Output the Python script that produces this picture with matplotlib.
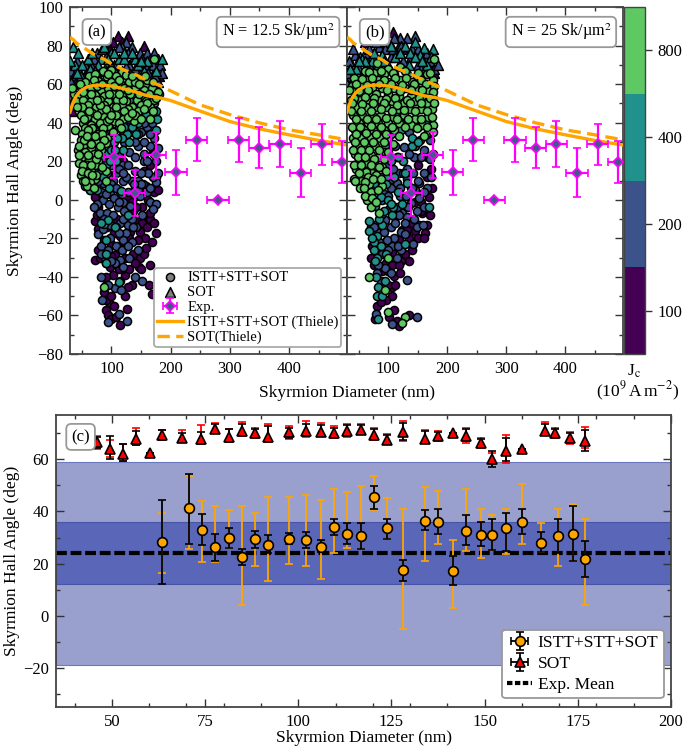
import matplotlib
matplotlib.use('Agg')
import matplotlib.pyplot as plt
import numpy as np
from matplotlib.colors import ListedColormap, BoundaryNorm
from matplotlib.cm import ScalarMappable
from matplotlib.ticker import MultipleLocator

plt.rcParams['font.family'] = ['Liberation Serif', 'DejaVu Serif']
plt.rcParams['mathtext.fontset'] = 'stix'
plt.rcParams['font.size'] = 11.5

# colours for the four current densities
purple = '#440154'
blue = '#3b528b'
teal = '#21918c'
green = '#5ec962'
jc_labels = ['100', '200', '400', '800']

# Thiele curves
thiele_d = [30, 33, 36, 40, 45, 50, 60, 70, 80, 90, 100, 120, 140, 160, 180, 200, 250, 300, 350, 400, 450, 500]
thiele_full = [45.5, 48.5, 51, 53.5, 55.5, 57, 58.7, 59.3, 59.5, 59.4, 59, 57.7, 56, 54, 53, 51.5, 46, 40.6, 36.8, 33.7, 30.8, 28.3]
thiele_sot = [84.5, 83.5, 83, 81.5, 80.5, 79.5, 77.5, 75.5, 74, 72.5, 70.5, 67.5, 65, 62, 59.5, 56.5, 49.2, 44.2, 39.9, 36.3, 33.7, 31]

# experiment
exp_d = [105, 139, 175, 209, 244, 280, 315, 350, 385, 420, 455, 490]
exp_ang = [22.4, 3.5, 23, 14.3, 31.1, 0, 31, 27, 28.8, 14, 28.8, 19.5]
exp_lo = [11.3, -8.5, 11.3, 2.6, 20, 0, 19.5, 16.5, 17, 1.4, 18.2, 8.5]
exp_hi = [33.7, 15.5, 34.9, 26, 42.4, 0, 42.4, 38, 41, 26.7, 39.5, 30.3]
exp_xerr = [18] * 12

# panel (a) simulation points, (diameter, angle)
a_tri_purple = [(111, 85), (102, 82), (118, 82), (180, 64), (40, 50), (33, 46), (98, 78), (165, 70), (128, 85), (90, 82),
                (170, 64), (48, 56), (155, 80), (35, 52)]
a_tri_blue = [(125, 82), (118, 79), (135, 79), (75, 76), (128, 76), (148, 76), (160, 76), (172, 76), (152, 73),
              (165, 73), (178, 73), (65, 70), (105, 70), (130, 70), (170, 70), (182, 70), (32, 67), (45, 67),
              (58, 67), (118, 67), (36, 64), (60, 64), (168, 64), (40, 61), (32, 61), (178, 61), (140, 68), (90, 74),
              (42, 72), (55, 70), (70, 73), (84, 78), (92, 70), (112, 79), (125, 69), (138, 74), (156, 70), (162, 66),
              (185, 66), (150, 66), (45, 62), (55, 64), (100, 70), (174, 64)]
a_tri_teal = [(35, 79), (88, 79), (100, 76), (60, 73), (82, 73), (95, 73), (112, 73), (122, 73), (140, 73), (38, 70),
              (50, 70), (78, 70), (145, 70), (72, 67), (90, 67), (155, 67), (175, 67), (48, 64), (108, 66), (132, 65),
              (30, 72), (44, 76), (68, 76), (76, 65), (105, 76), (122, 76), (135, 76), (160, 72), (185, 73), (42, 66),
              (64, 68), (150, 72)]

a_purple = [(72, 1.7), (159, 7), (151, -4), (162, -10), (176, -17), (148, -16.5), (156, -20), (168, -22), (123, -24),
            (72, -11), (77, -15), (77, -26), (72, -31), (111, -24), (148, -30), (137, -28), (147, -35), (166, -34),
            (103, -39), (123, -39), (134, -44), (163, -44), (169, -49), (123, -50), (97, -35), (90, -40), (91, -44),
            (87, -48), (97, -54), (91, -57), (94, -60), (100, -62), (126, -56.5), (114, -65), (108, -61), (165, -10),
            (145, -21), (131, -16.5), (114, -19), (100, -23), (106, -28.5), (123, -30), (125, -5), (137, -6), (162, 0),
            (165, -7), (155, 15), (170, 25), (120, 20), (140, 5), (165, 18), (130, -20), (110, -10), (93, -14),
            (85, -29), (140, -11), (152, -12), (118, -36), (128, 2), (172, 4), (78, -4), (88, -21), (104, -17),
            (80, -30), (75, -8), (90, -33), (100, -29), (112, -36), (130, -36), (140, -33), (155, -28), (160, -14),
            (172, -12), (168, -2), (150, -36), (90, -52), (105, -55), (100, -50), (115, -42), (128, -45), (82, -10),
            (142, -4), (135, -1), (178, 5), (158, -25), (175, 12)]
a_blue = [(63, 5), (83, 4), (97, 3), (86, 0), (96, -2), (120, -1), (111, -3.5), (80, -7), (92, -7), (103, -8),
          (114, -12), (128, -13), (77, -18), (86, -15), (108, -14), (125, -17), (142, -14), (97, -20), (120, -21),
          (83, -24), (108, -24), (134, -22), (145, -26), (89, -30), (114, -31), (130, -30), (106, -33), (83, -40),
          (140, -40), (151, -42), (106, -46), (116, -47), (84, -52), (112, -59), (127, -63), (95, -63.5), (176, 9),
          (165, -1), (176, -2), (120, 9.5), (134, 10), (103, 10), (86, 8.6), (154, 8), (145, 10), (150, 35),
          (165, 28), (175, 20), (130, 25), (118, 18), (140, 15), (155, 20), (170, 12), (108, 14), (125, 12),
          (172, 32), (160, 38), (145, 28), (135, 35), (128, 4), (142, 2), (112, 5), (95, 12), (78, 10), (162, 14),
          (150, 14), (178, 27), (155, 30), (122, 30), (112, 24), (168, 40), (150, 44), (140, 22), (100, 18),
          (125, 40), (138, 44), (90, 3), (105, 1), (118, 3), (132, -3), (148, 2), (160, 4), (170, -5), (135, -10),
          (120, -10), (88, -10), (98, -13), (113, -17), (136, -14), (152, -8), (82, -28), (95, -26), (118, -26),
          (128, -24), (100, -32), (120, -35), (95, -44), (145, 5), (155, 24), (165, 34), (140, 30), (128, 18),
          (112, 16), (100, 8), (92, 20), (150, 8), (165, 6), (172, 24), (178, 14), (138, 8), (118, 36), (130, 42),
          (145, 34), (155, 40), (160, 20), (120, 14), (108, 6), (102, 24), (88, 14), (76, -2), (70, -4), (122, -6),
          (112, -1)]
a_teal = [(56, 7.4), (87.5, -12.6), (94, -10.4), (106, -14), (91.5, -20.8), (91.5, -28), (90.3, -33), (112.4, -42.4),
          (115.7, 4.8), (83, -12), (128, -8), (177, 42), (175, 36), (168, 48), (180, 55), (62, 32), (70, 40), (78, 28),
          (85, 36), (92, 24), (98, 42), (104, 30), (112, 38), (118, 46), (126, 34), (132, 44), (140, 50), (150, 51),
          (160, 47), (66, 22), (74, 16), (84, 20), (95, 34), (108, 20), (60, 14), (68, 8), (80, 14), (92, 14),
          (145, 40), (158, 44), (172, 50), (120, 26), (65, 46), (82, 46), (100, 50), (114, 50), (130, 52), (75, 34),
          (88, 28), (100, 26), (58, 26), (170, 58), (70, 27), (82, 22), (90, 18), (98, 20), (106, 26), (114, 32),
          (122, 38), (130, 30), (138, 36), (146, 48), (100, 36), (108, 44), (118, 32), (78, 18), (70, 12), (62, 18),
          (64, 5), (76, 5), (86, 12), (96, 6), (110, 32), (125, 46), (135, 38), (155, 53), (165, 52), (175, 46),
          (142, 34), (150, 48), (74, 38), (90, 42)]
a_green = [(172, 73), (85, 67), (100, 67.5), (118, 66.5), (62, 64), (72, 65), (92, 63.5), (108, 64), (125, 64.5), (137, 63),
           (55, 61), (78, 61.5), (88, 60), (100, 61), (115, 60.5), (130, 61), (148, 62), (160, 60), (40, 57), (48, 58.5),
           (65, 58), (82, 57), (95, 58), (110, 57.5), (122, 58), (140, 58), (155, 57), (168, 58), (36, 55), (44, 54),
           (58, 55), (72, 54.5), (88, 54), (102, 55), (118, 54), (132, 55), (150, 54.5), (163, 55), (178, 56), (40, 51),
           (52, 52), (66, 51), (80, 52), (95, 51), (110, 52), (125, 51), (143, 52), (158, 51), (172, 52), (60, 49),
           (74, 48), (88, 49), (103, 48), (118, 49), (135, 48), (150, 49), (165, 48), (55, 46), (68, 45), (82, 45.5),
           (96, 46), (112, 45), (128, 47), (145, 46), (160, 50), (58, 43), (72, 42), (88, 43), (104, 41), (120, 42),
           (138, 41), (52, 40), (65, 39), (80, 40), (95, 38.5), (112, 40), (38, 36), (55, 37), (70, 36), (86, 37),
           (102, 35), (50, 34), (62, 33.5), (78, 34), (92, 32), (48, 31), (60, 30), (74, 30), (90, 29.5), (52, 28),
           (66, 27), (82, 26), (44, 26), (56, 25), (70, 24), (50, 22), (62, 21), (78, 20), (46, 19), (58, 18),
           (72, 18), (54, 16), (66, 15), (90, 15), (48, 13), (60, 12), (72, 11), (52, 10), (64, 9), (90, 10), (58, 7),
           (70, 6), (88, -45), (47, 60), (70, 62), (95, 65), (112, 62), (140, 61), (52, 56), (76, 59), (104, 59), (128, 57),
           (146, 55), (175, 53), (34, 58), (50, 48), (65, 55), (90, 47), (80, 49), (108, 48), (122, 46), (140, 44),
           (155, 47), (170, 46), (62, 46), (76, 44), (92, 41), (108, 44), (128, 43), (48, 44), (54, 42), (68, 37), (84, 34),
           (96, 42), (116, 37), (60, 36), (72, 33), (88, 31), (54, 31), (66, 29), (80, 28), (46, 23), (60, 23), (74, 21),
           (52, 18), (66, 18), (50, 15), (60, 14), (74, 13), (56, 10), (68, 13), (46, 28), (58, 33), (78, 24), (84, 17),
           (100, 44), (134, 45), (150, 42), (165, 42), (120, 52), (160, 62), (135, 64), (76, 52), (96, 55), (84, 60),
           (112, 55), (146, 60), (170, 61), (156, 64), (42, 48)]

# panel (b) simulation points
b_tri_purple = [(178, 66), (172, 70), (60, 82), (40, 62), (92, 80), (125, 78), (168, 66), (108, 87), (55, 60)]
b_tri_blue = [(146, 85), (131, 84), (120, 84), (109, 84), (98, 82), (117, 78.5), (85, 79), (140, 78), (75, 76), (160, 74),
              (170, 72), (44, 75), (60, 76), (35, 64), (38, 70), (50, 68), (150, 70), (65, 71), (33, 72), (178, 68),
              (48, 62), (125, 72), (105, 74), (36, 58), (40, 78), (52, 74), (68, 78), (80, 82), (95, 78), (108, 78),
              (122, 80), (138, 74), (155, 68), (150, 78), (165, 76), (30, 66), (42, 60), (55, 64), (70, 68), (118, 70),
              (185, 70), (30, 60)]
b_tri_teal = [(160, 78.5), (175, 78), (154, 75), (55, 73), (72, 72), (90, 75), (112, 74), (128, 80), (100, 70), (45, 68),
              (135, 70), (82, 70), (165, 70), (145, 82), (60, 72), (76, 76), (86, 84), (104, 80), (120, 76), (136, 76),
              (145, 74), (158, 72), (172, 74), (35, 68), (50, 72), (92, 72)]

b_purple = [(70, -30), (73, -24), (95.5, -33), (107, -34), (135, -31.5), (121, -32), (135, -20), (118, -21), (107, -27),
            (152, -13), (166, -13), (163, -17), (158, -7), (169, 1.7), (110, -39.5), (107, -45), (107, -50), (95.5, -52),
            (81, -55), (101, -61), (115, -63), (118, -65.7), (135, -60), (124, -15.6), (132, -15.6), (146, -16), (146, -1),
            (155, -1), (165, 12), (150, 18), (138, 6), (128, -3), (70, -14), (155, -6), (112, -9), (90, -37), (100, -44),
            (75, -34), (84, -24), (120, -38), (128, -28), (140, -12), (150, -20), (170, -8), (174, 6), (160, -20), (112, -44),
            (118, -34), (100, -37), (88, -53), (78, -62), (110, -57), (140, -26), (172, 16), (165, 22)]
b_blue = [(81, -12.5), (95, -10.4), (124, -7), (138, -1.8), (101, -5), (115, -3.5), (104, -14), (81, -16.5), (93, -16.5),
          (121, -16.5), (110, -20), (107, -24), (142, -23), (81, -27), (90, -28), (114, -30), (95, -35.5), (82, -34),
          (81, -38), (131, -41.5), (78.5, -59), (107, -64.5), (148, -61), (149, -14), (159, -13), (132, -8.7), (152, 0.8),
          (166, 6), (104, 6), (115, 8.6), (104, 11), (132, 11), (87, 12), (152, 8.6), (143, 22.4), (160, 26), (171, 31),
          (154, 31), (126, 27.6), (115, 22), (132, 16), (92, 3), (146, 5), (160, 14), (170, 21), (150, 38), (135, 35),
          (120, 2), (94, -22), (122, -26), (118, 14), (142, 14), (112, 28), (90, 0), (100, 2), (110, -8), (120, 6), (130, 2),
          (140, 6), (150, 10), (160, 4), (172, 12), (176, 24), (165, 34), (155, 22), (145, 28), (135, 24), (125, 14),
          (108, 16), (98, 18), (85, -22), (98, -21), (116, -24), (128, -18), (100, -30), (88, -42), (76, -14), (104, -38),
          (112, -12), (134, -4), (148, -6), (160, -4), (118, -8), (144, -10), (128, -12), (100, -26), (88, -8)]
b_teal = [(81, -19), (67, -16), (75, -22), (81, -30), (128, -23), (95, -42), (82, -45), (81, -50), (82, -62), (107, -8),
          (108, -3.5), (124, -2), (169, -3.5), (78.5, 3.4), (87, 1.7), (131, 8.6), (110, 12), (67, -11), (75, -26), (90, -13),
          (122, 36), (132, 42), (146, 46), (162, 40), (104, 20), (95, 28), (112, 44), (75, 8), (60, 12), (125, 20), (96, 12),
          (105, 34), (140, 28), (70, 5), (78, -3), (85, -10), (92, -6), (100, 0), (72, -20), (78, -32), (88, -24), (96, -28),
          (80, -40), (90, -50), (96, 8), (104, -2), (116, 4), (128, 14), (116, 22), (140, 32), (150, 30)]
b_green = [(178, 73), (81, 71), (120, 69), (100, 68), (60, 67), (75, 66), (92, 65), (110, 65), (132, 65), (148, 64), (165, 65),
           (175, 62), (48, 63), (63, 62), (82, 62), (100, 61), (120, 62), (140, 61), (158, 60), (38, 59), (55, 59), (72, 58),
           (90, 58), (110, 58), (128, 58), (148, 57), (168, 57), (44, 56), (60, 55), (80, 55), (100, 55), (118, 54), (138, 54),
           (158, 54), (176, 53), (36, 52), (52, 52), (68, 52), (88, 51.5), (106, 51), (126, 50), (146, 51), (166, 50), (46, 48),
           (62, 48), (78, 48), (96, 48), (116, 47), (136, 47), (156, 47), (174, 47), (40, 44), (56, 44), (72, 44), (88, 44),
           (106, 43), (126, 44), (146, 42), (168, 43), (50, 40), (66, 40), (82, 40), (100, 40), (118, 40), (138, 39), (158, 39),
           (175, 39), (44, 36), (58, 36), (74, 36), (92, 36), (110, 36), (170, 35), (40, 32), (54, 32), (70, 32), (86, 32),
           (100, 31), (48, 28), (62, 28), (78, 28), (92, 25), (44, 24), (56, 24), (70, 23), (84, 22), (50, 20), (64, 19),
           (78, 18), (46, 16), (58, 15), (72, 14), (90, 17), (42, 11), (53, 9.5), (63, 14.6), (68, 8), (52, 6), (64, 3.4),
           (89, 7.4), (64, 0), (71, -4), (85, -6.6), (99, -30), (67, -40), (95, -47), (99, -58), (129, -61), (124, -64),
           (68, 66.5), (88, 67), (108, 66), (128, 67), (150, 66), (170, 66), (42, 63), (56, 62.5), (72, 63), (92, 62), (112, 63),
           (130, 63), (155, 62), (46, 60), (64, 59.5), (84, 60), (104, 60), (124, 59.5), (144, 60), (164, 60), (178, 59), (34, 57),
           (50, 56.5), (66, 57), (98, 57), (120, 56.5), (138, 57), (158, 57), (176, 56), (42, 53), (60, 53.5), (76, 53), (96, 52.5),
           (112, 53), (132, 52), (152, 53), (170, 53), (38, 50), (56, 49.5), (74, 50), (92, 50), (114, 49), (136, 50), (156, 50),
           (178, 50), (36, 46), (54, 46), (70, 46), (88, 47), (106, 46), (126, 46.5), (146, 46), (166, 46), (46, 42), (64, 42),
           (80, 42), (96, 42.5), (114, 42), (134, 42), (156, 42), (174, 43), (38, 38), (52, 38), (70, 38.5), (88, 38), (106, 38),
           (128, 38), (148, 37), (166, 38), (46, 34), (62, 34.5), (80, 34), (96, 34), (118, 33), (160, 33), (176, 35), (44, 30),
           (58, 30), (74, 30), (92, 30), (108, 29), (40, 26), (54, 26), (68, 26), (84, 26), (100, 25), (48, 22), (60, 22), (76, 21),
           (92, 21), (42, 18), (54, 18), (70, 18), (84, 17), (50, 14), (66, 12), (80, 13), (96, 15), (44, 10), (60, 9), (74, 11),
           (88, 11), (58, 6), (70, 4), (82, 5), (60, 2), (72, 1), (80, -1)]

# panel (c)
c_d = [63.5, 70.6, 74.2, 77.6, 81.3, 84.8, 88.4, 91.8, 97.4, 102.2, 106, 109.6, 113.1, 116.7, 120.2, 123.7, 128.1, 134.1,
       137.5, 141.4, 145.1, 148.9, 152.1, 155.8, 160, 165, 169.7, 173.8, 176.8]
c_ang = [28.3, 41.3, 33, 26.2, 30, 22.5, 29.3, 27.3, 29.5, 29.2, 26.4, 34, 31.5, 30.5, 45.5, 33.5, 17.5, 36.5, 36, 17, 32.5, 31,
         31, 33.5, 36, 28, 30.7, 31.5, 21.7]
c_blk_lo = [12, 27.7, 27.3, 21, 26, 19.5, 26, 24, 27.5, 26, 24.5, 31, 27.5, 25.5, 41, 29.5, 13.5, 32.7, 31.5, 11.7, 27, 26.7, 25.3,
            25, 31.5, 24.5, 24, 21, 15]
c_blk_hi = [44.5, 54.5, 39, 31.5, 33.5, 25.5, 32.5, 31, 31.7, 32, 29, 37, 35.5, 35.5, 49.7, 37, 21.3, 40.5, 41, 23, 38.5, 36, 37.2,
            39.3, 41, 32, 37.3, 42, 28.7]
c_org_lo = [16.5, 25.7, 20.7, 20.5, 26, 4, 19, 13.5, 19.7, 19, 14, 24, 26, 25.5, 40.7, 29.5, -5, 21, 27.7, 3, 25, 22, 25.3, 23.7,
            27.7, 24.5, 19, 21, 4]
c_org_hi = [39.5, 53.5, 44, 42, 40.5, 42, 39.5, 45.5, 45.5, 46.5, 44.5, 48.5, 47.5, 49.7, 53.5, 45, 41, 49.5, 47.7, 29, 48.5, 41,
            38.5, 41, 50.7, 35.5, 41, 43, 37]

sot_d = [46, 49.4, 53, 56.4, 60.1, 63.5, 68.7, 74, 77.6, 81.3, 84.8, 88.4, 91.8, 97.4, 102.2, 106, 109.6, 113, 116.7, 120.2, 123.7,
         128.1, 134.1, 137.5, 141.4, 145.1, 148.9, 152.1, 155.8, 160, 166.2, 169, 173, 176.8]
sot_ang = [66.8, 63.8, 61.9, 67.7, 62.6, 69.2, 68.3, 67.7, 71.5, 68.7, 70.9, 70, 68.7, 70.3, 70.9, 70.6, 70, 70.9, 71.2, 69.2, 67.4,
           70.5, 67.7, 69, 70, 69.1, 66.2, 60, 63.2, 64.1, 71, 70, 68.3, 66.9]
sot_red_lo = [63.8, 60.9, 59.4, 65.4, 62.6, 67.7, 67, 65.8, 70, 66.8, 69, 68.3, 66.8, 67.7, 68.6, 69, 68.3, 68.5, 69.6, 67.4, 66,
              66.9, 66.2, 67, 70, 66.2, 64.5, 58.7, 58.7, 64.1, 69.2, 68, 66, 64.5]
sot_red_hi = [69, 67.4, 66, 72.2, 62.6, 71.3, 71.3, 73.1, 74.1, 71.8, 74.4, 72.2, 73.7, 72.6, 74.7, 73.8, 72.6, 73.5, 73.5, 72.2, 69.6,
              74.6, 71.3, 70.9, 70, 72.1, 68.3, 62.3, 69.2, 64.1, 74.4, 72.2, 70.3, 72.4]
sot_blk_lo = [64.5, 60, 59.4, 65.4, 62.6, 67.4, 67, 66, 70, 66.8, 69.2, 68.6, 67, 68, 69, 69.2, 68.6, 69, 70, 67.8, 66.2,
              67.4, 66.5, 67.4, 70, 67, 65, 57.2, 59.4, 64.1, 69.2, 68.4, 66.4, 63.2]
sot_blk_hi = [68.6, 69, 66, 70.9, 62.6, 71.3, 70, 70.3, 73.5, 71.5, 73.5, 71.6, 72.8, 72, 73.5, 73, 72, 73, 73, 71.6, 69.2,
              73.8, 70.8, 70.6, 70, 71.6, 67.8, 63.2, 68.3, 64.1, 73.5, 71.8, 70, 71.2]

band_wide = (-19, 59)
band_narrow = (12.3, 36)
exp_mean = 24

W, H = 685, 747
fig = plt.figure(figsize=(W / 100, H / 100), dpi=100)


def px_axes(x0, x1, y0, y1):
    return fig.add_axes([x0 / W, 1 - y1 / H, (x1 - x0) / W, (y1 - y0) / H])


def style(ax, xmaj, xmin, ymaj, ymin):
    ax.xaxis.set_major_locator(MultipleLocator(xmaj))
    ax.xaxis.set_minor_locator(MultipleLocator(xmin))
    ax.yaxis.set_major_locator(MultipleLocator(ymaj))
    ax.yaxis.set_minor_locator(MultipleLocator(ymin))
    ax.tick_params(which='major', direction='in', length=5.5, width=1, top=True, right=True, labelsize=12, pad=5, color='#333333')
    ax.tick_params(which='minor', direction='in', length=3, width=1, top=True, right=True, color='#333333')
    for s in ax.spines.values():
        s.set_linewidth(1.3)
        s.set_color('#444444')


def tag(ax, x, y, s, size=12):
    ax.text(x, y, s, transform=ax.transAxes, ha='center', va='center', fontsize=size, zorder=10,
            bbox=dict(boxstyle='round,pad=0.3', fc='white', ec='#999999', lw=1.3))


def cloud(ax, pts, col, marker='o', s=34):
    d, ang = np.array(pts).T
    ax.scatter(d, ang, c=col, marker=marker, s=s, edgecolors='black', linewidths=1.1, zorder=3)


def panel(ax, tris, circles):
    for pts, col in tris:
        cloud(ax, pts, col, marker='^', s=50)
    for pts, col in circles:
        cloud(ax, pts, col)
    ax.plot(thiele_d, thiele_full, color='orange', lw=2.4, zorder=4)
    ax.plot(thiele_d, thiele_sot, color='orange', lw=2.4, ls=(0, (3.7, 1.9)), zorder=4)
    ax.errorbar(exp_d, exp_ang, xerr=exp_xerr,
                yerr=[np.array(exp_ang) - np.array(exp_lo), np.array(exp_hi) - np.array(exp_ang)],
                fmt='D', ms=5.5, mfc='#3f5a8a', mec='magenta', mew=1.2, ecolor='magenta', elinewidth=1.6,
                capsize=3, capthick=1.5, zorder=5)
    ax.set_xlim(30, 498)
    ax.set_ylim(-80, 100)
    style(ax, 100, 50, 20, 10)


ax_a = px_axes(70, 347, 7, 354)
panel(ax_a, [(a_tri_purple, purple), (a_tri_blue, blue), (a_tri_teal, teal)],
      [(a_purple, purple), (a_blue, blue), (a_teal, teal), (a_green, green)])
ax_a.set_ylabel('Skyrmion Hall Angle (deg)', fontsize=12.5, labelpad=10)
tag(ax_a, 0.097, 0.928, '(a)')
tag(ax_a, 0.751, 0.928, 'N = 12.5 Sk/µm$^2$', size=11.7)

ax_b = px_axes(347, 623, 7, 354)
panel(ax_b, [(b_tri_purple, purple), (b_tri_blue, blue), (b_tri_teal, teal)],
      [(b_purple, purple), (b_blue, blue), (b_teal, teal), (b_green, green)])
ax_b.tick_params(labelleft=False)
tag(ax_b, 0.1, 0.928, '(b)')
tag(ax_b, 0.775, 0.928, 'N = 25 Sk/µm$^2$', size=11.7)

# legend of panel (a)
h_c = ax_a.scatter([], [], c='grey', s=34, edgecolors='black', linewidths=1.1)
h_t = ax_a.scatter([], [], c='grey', marker='^', s=50, edgecolors='black', linewidths=1.1)
h_e = ax_a.errorbar([np.nan], [np.nan], xerr=[1], yerr=[1], fmt='D', ms=5.5, mfc='#3f5a8a', mec='magenta', mew=1.2,
                    ecolor='magenta', elinewidth=1.6, capsize=3, capthick=1.5)
h_s, = ax_a.plot([], [], color='orange', lw=2.4)
h_d, = ax_a.plot([], [], color='orange', lw=2.4, ls=(0, (3.7, 1.9)))
leg = ax_a.legend([h_c, h_t, h_e, h_s, h_d],
                  ['ISTT+STT+SOT', 'SOT', 'Exp.', 'ISTT+STT+SOT (Thiele)', 'SOT(Thiele)'],
                  loc='lower right', bbox_to_anchor=(0.98, 0.02), borderaxespad=0, fontsize=10.5, labelspacing=0.12,
                  handletextpad=0.3, handlelength=1.75, borderpad=0.2, fancybox=True, framealpha=1, edgecolor='#aaaaaa')
leg.get_frame().set_linewidth(1.3)
leg.set_zorder(8)

fig.text(347 / W, 1 - 393 / H, 'Skyrmion Diameter (nm)', ha='center', va='center', fontsize=12.5)

# discrete colour bar
cax = px_axes(624, 645, 7, 354)
cmap = ListedColormap([purple, blue, teal, green])
norm = BoundaryNorm([0, 1, 2, 3, 4], 4)
cb = fig.colorbar(ScalarMappable(norm=norm, cmap=cmap), cax=cax, ticks=[0.5, 1.5, 2.5, 3.5])
cb.ax.set_yticklabels(jc_labels)
cb.ax.tick_params(length=5, width=1, labelsize=12, color='#333333', pad=4)
cb.ax.minorticks_off()
cb.outline.set_linewidth(1)
cb.outline.set_edgecolor('#444444')
fig.text(634 / W, 1 - 371 / H, 'J$_{\\mathrm{c}}$', ha='center', va='center', fontsize=12.5)
fig.text(638 / W, 1 - 391 / H, '(10$^9\\,$A$\\,$m$^{-2}$)', ha='center', va='center', fontsize=12.5)

# panel (c)
ax_c = px_axes(56, 671, 415, 707)
ax_c.axhspan(band_wide[0], band_wide[1], fc='#9aa0cd', ec='#6c77bd', lw=0.8, zorder=1)
ax_c.axhspan(band_narrow[0], band_narrow[1], fc='#5a66b8', ec='#4755a9', lw=0.8, zorder=1.1)
ax_c.axhline(exp_mean, color='black', lw=3, ls=(0, (2.6, 0.9)), zorder=2)

c_d = np.array(c_d)
c_ang = np.array(c_ang)
sot_d = np.array(sot_d)
sot_ang = np.array(sot_ang)


def bars(x, y, lo, hi, col, lw, z):
    ax_c.errorbar(x, y, yerr=[np.abs(y - np.array(lo)), np.abs(np.array(hi) - y)], fmt='none', ecolor=col, elinewidth=lw,
                  capsize=3, capthick=1.2, zorder=z)


bars(c_d, c_ang, c_org_lo, c_org_hi, 'orange', 1.3, 3)
bars(c_d, c_ang, c_blk_lo, c_blk_hi, 'black', 1.3, 3.1)
ax_c.plot(c_d, c_ang, 'o', ms=7, mfc='orange', mec='black', mew=1.2, zorder=4)
bars(sot_d, sot_ang, sot_red_lo, sot_red_hi, 'red', 1.3, 3)
bars(sot_d, sot_ang, sot_blk_lo, sot_blk_hi, 'black', 1.3, 3.1)
ax_c.plot(sot_d, sot_ang, '^', ms=7.5, mfc='red', mec='black', mew=1.2, zorder=4)

ax_c.set_xlim(35, 200)
ax_c.set_ylim(-35, 77)
style(ax_c, 25, 10, 20, 10)
ax_c.set_xlabel('Skyrmion Diameter (nm)', fontsize=12.5, labelpad=0)
ax_c.set_ylabel('Skyrmion Hall Angle (deg)', fontsize=12.5, labelpad=2)
tag(ax_c, 0.04, 0.925, '(c)')

h1 = ax_c.errorbar([np.nan], [np.nan], xerr=[1], yerr=[1], fmt='o', ms=7, mfc='orange', mec='black', mew=1.2, ecolor='black',
                   elinewidth=1.3, capsize=3, capthick=1.2)
h2 = ax_c.errorbar([np.nan], [np.nan], xerr=[1], yerr=[1], fmt='^', ms=7.5, mfc='red', mec='black', mew=1.2, ecolor='black',
                   elinewidth=1.3, capsize=3, capthick=1.2)
h3, = ax_c.plot([], [], color='black', lw=3, ls=(0, (1.3, 0.6)))
leg2 = ax_c.legend([h1, h2, h3], ['ISTT+STT+SOT', 'SOT', 'Exp. Mean'], loc='lower right', bbox_to_anchor=(0.988, 0.03),
                   borderaxespad=0, fontsize=12.5, labelspacing=0.28, handletextpad=0.35, handlelength=1.4,
                   borderpad=0.3, fancybox=True, framealpha=1, edgecolor='#999999')
leg2.get_frame().set_linewidth(1.3)
leg2.set_zorder(8)

fig.savefig('out.png', dpi=100)
